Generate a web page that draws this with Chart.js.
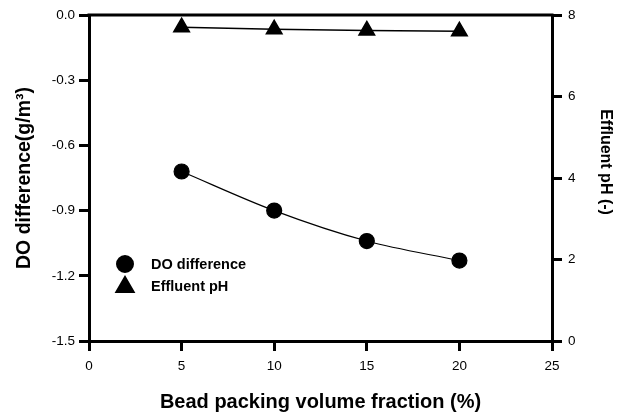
<!DOCTYPE html>
<html>
<head>
<meta charset="utf-8">
<script src="https://cdn.jsdelivr.net/npm/chart.js@4/dist/chart.umd.min.js"></script>
<style>
  html, body { margin: 0; padding: 0; background: #fff; }
  #wrap { width: 627px; height: 414px; }
</style>
</head>
<body>
<div id="wrap"><canvas id="myChart" width="627" height="414"></canvas></div>
<script>
var fractions = [5, 10, 15, 20];
var doDiff = [-0.72, -0.90, -1.04, -1.13];
var phValues = [7.70, 7.65, 7.62, 7.60];
var xTicks = [0, 5, 10, 15, 20, 25];
var leftTicks = [-1.5, -1.2, -0.9, -0.6, -0.3, 0.0];
var rightTicks = [0, 2, 4, 6, 8];

var fam = '"Liberation Sans", Arial, Helvetica, sans-serif';

function pts(ys) {
    return fractions.map(function (x, i) { return { x: x, y: ys[i] }; });
}

// top frame line, inset legend and right axis title (sits above centre in the original)
var framePlugin = {
    id: 'frame',
    afterDraw: function (chart) {
        var c = chart.ctx, a = chart.chartArea;
        c.save();
        c.strokeStyle = '#000';
        c.lineWidth = 3;
        c.beginPath();
        c.moveTo(a.left - 1.5, a.top);
        c.lineTo(a.right + 1.5, a.top);
        c.stroke();

        var lx = a.left + 36, ly = a.top + 249;
        c.fillStyle = '#000';
        Chart.helpers.drawPoint(c, { pointStyle: 'circle', radius: 7.5, borderWidth: 1 }, lx, ly);
        c.fill();
        Chart.helpers.drawPoint(c, { pointStyle: 'triangle', radius: 9, borderWidth: 1 }, lx, ly + 23);
        c.fill();
        c.font = 'bold 14.5px ' + fam;
        c.textBaseline = 'middle';
        c.fillText('DO difference', lx + 26, ly + 1);
        c.fillText('Effluent pH', lx + 26, ly + 23);

        c.translate(a.right + 53, a.top + 147);
        c.rotate(Math.PI / 2);
        c.textAlign = 'center';
        c.font = 'bold 16px ' + fam;
        c.fillText('Effluent pH (-)', 0, 0);
        c.restore();
    }
};

var ctx = document.getElementById('myChart').getContext('2d');
var myChart = new Chart(ctx, {
    type: 'line',
    data: {
        datasets: [{
            label: 'DO difference',
            data: pts(doDiff),
            yAxisID: 'y',
            borderColor: '#000',
            backgroundColor: '#000',
            borderWidth: 1.2,
            pointStyle: 'circle',
            pointRadius: 7.5,
            tension: 0.4,
            cubicInterpolationMode: 'monotone'
        }, {
            label: 'Effluent pH',
            data: pts(phValues),
            yAxisID: 'y2',
            borderColor: '#000',
            backgroundColor: '#000',
            borderWidth: 1.5,
            pointStyle: 'triangle',
            pointRadius: 9,
            tension: 0
        }]
    },
    plugins: [framePlugin],
    options: {
        responsive: false,
        animation: false,
        layout: { padding: { top: 15, left: 0, right: 0, bottom: 0 } },
        plugins: { legend: { display: false }, tooltip: { enabled: false } },
        scales: {
            x: {
                type: 'linear',
                min: 0, max: 25,
                afterFit: function (s) { s.height = 73; },
                afterBuildTicks: function (s) { s.ticks = xTicks.map(function (v) { return { value: v }; }); },
                ticks: { color: '#000', font: { family: fam, size: 13.5 }, padding: 7 },
                grid: { drawOnChartArea: false, drawTicks: true, tickLength: 10, lineWidth: 3, color: '#000' },
                border: { display: true, width: 3, color: '#000' },
                title: { display: true, text: 'Bead packing volume fraction (%)', color: '#000',
                         font: { family: fam, size: 20, weight: 'bold' }, padding: { top: 0, bottom: 0 } }
            },
            y: {
                position: 'left',
                min: -1.5, max: 0,
                afterFit: function (s) { s.width = 89; },
                afterBuildTicks: function (s) { s.ticks = leftTicks.map(function (v) { return { value: v }; }); },
                ticks: { color: '#000', font: { family: fam, size: 13.5 }, padding: 4,
                         callback: function (v) { return Number(v).toFixed(1); } },
                grid: { drawOnChartArea: false, drawTicks: true, tickLength: 10, lineWidth: 3, color: '#000' },
                border: { display: true, width: 3, color: '#000' },
                title: { display: true, text: 'DO difference(g/m\u00B3)', color: '#000',
                         font: { family: fam, size: 19.5, weight: 'bold' }, padding: { top: 13, bottom: 0 } }
            },
            y2: {
                position: 'right',
                min: 0, max: 8,
                afterFit: function (s) { s.width = 75; },
                afterBuildTicks: function (s) { s.ticks = rightTicks.map(function (v) { return { value: v }; }); },
                ticks: { color: '#000', font: { family: fam, size: 13.5 }, padding: 6 },
                grid: { drawOnChartArea: false, drawTicks: true, tickLength: 10, lineWidth: 3, color: '#000' },
                border: { display: true, width: 3, color: '#000' },
                title: { display: false }
            }
        }
    }
});
</script>
</body>
</html>
